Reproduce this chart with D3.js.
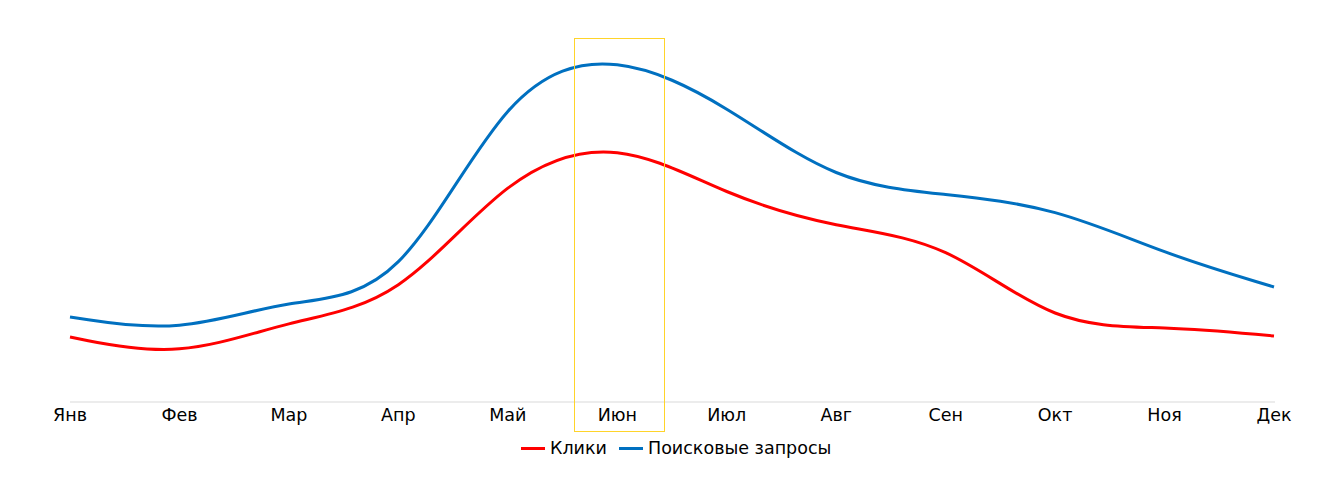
<!DOCTYPE html>
<html lang="ru">
<head>
    <meta charset="UTF-8">
    <title>Клики и поисковые запросы</title>
    <script src="https://cdn.jsdelivr.net/npm/d3@7"></script>
    <style>
        body { margin: 0; background: #fff; }
        text { font-family: "DejaVu Sans", sans-serif; fill: #000; }
    </style>
</head>
<body>
<script>
    let width = 1331;
    let height = 482;

    // данные по месяцам
    const months = ["Янв", "Фев", "Мар", "Апр", "Май", "Июн", "Июл", "Авг", "Сен", "Окт", "Ноя", "Дек"];
    const clicks = [65, 43, 82, 98, 230, 265, 206, 174, 162, 74, 76, 66];
    const searches = [85, 68, 104, 104, 322, 351, 297, 218, 208, 195, 148, 115];
    const seriesNames = ["Клики", "Поисковые запросы"];
    const highlightMonth = "Июн";

    var svg = d3.select("body").append("svg")
        .attr("width", width)
        .attr("height", height);

    var x = d3.scalePoint()
        .domain(months)
        .range([70, 1274]);

    var y = d3.scaleLinear()
        .domain([0, 400])
        .range([402, 2]);

    // базовая линия
    svg.append("line")
        .attr("x1", x(months[0]))
        .attr("x2", x(months[months.length - 1]) + 1)
        .attr("y1", y(0))
        .attr("y2", y(0))
        .attr("stroke", "#d9d9d9")
        .attr("stroke-width", 1);

    // подписи месяцев
    svg.selectAll(".mlabel")
        .data(months)
        .enter()
        .append("text")
        .attr("class", "mlabel")
        .attr("x", d => x(d))
        .attr("y", 421)
        .attr("text-anchor", "middle")
        .attr("font-size", 17.5)
        .text(d => d);

    // сглаженная линия
    var line = d3.line()
        .x((d, i) => x(months[i]))
        .y(d => y(d))
        .curve(d3.curveBasis);

    var series = [
        {name: seriesNames[0], values: clicks, color: "#ff0000"},
        {name: seriesNames[1], values: searches, color: "#0070c0"}
    ];

    svg.selectAll(".series")
        .data(series)
        .enter()
        .append("path")
        .attr("class", "series")
        .attr("d", d => line(d.values))
        .attr("fill", "none")
        .attr("stroke", d => d.color)
        .attr("stroke-width", 3);

    // рамка вокруг выделенного месяца
    svg.append("rect")
        .attr("x", Math.round(x(highlightMonth) - 43) + 0.5)
        .attr("y", 38.5)
        .attr("width", 90)
        .attr("height", 393)
        .attr("fill", "none")
        .attr("stroke", "#ffd42a")
        .attr("stroke-width", 1);

    // легенда
    var legend = svg.append("g");
    var lx = [521, 619];
    series.forEach(function (s, i) {
        legend.append("line")
            .attr("x1", lx[i])
            .attr("x2", lx[i] + 24)
            .attr("y1", 448.5)
            .attr("y2", 448.5)
            .attr("stroke", s.color)
            .attr("stroke-width", 3);
        legend.append("text")
            .attr("x", lx[i] + 29)
            .attr("y", 454)
            .attr("font-size", 17.5)
            .text(s.name);
    });
</script>
</body>
</html>
